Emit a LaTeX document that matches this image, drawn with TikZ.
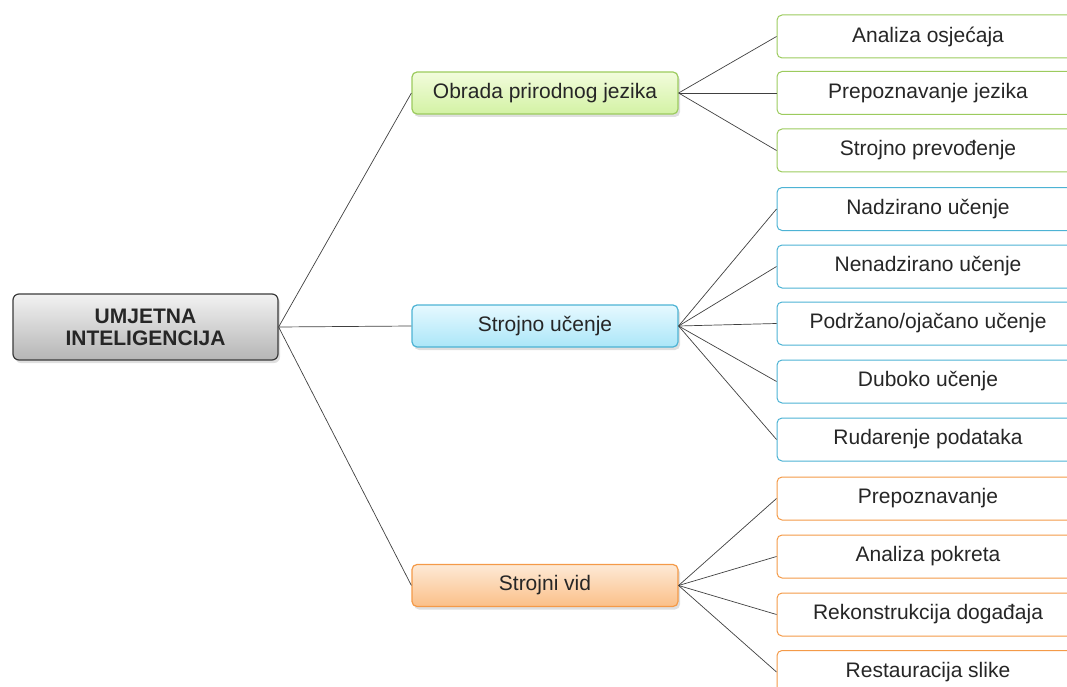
\documentclass[tikz,border=0pt]{standalone}
\usepackage{fontspec}
\setmainfont{Liberation Sans}
\usetikzlibrary{shadows}
\definecolor{txt}{HTML}{262626}
\definecolor{lnk}{HTML}{404040}
\definecolor{gB}{HTML}{9CCB5E}
\definecolor{gT}{HTML}{F2FCDC}
\definecolor{gD}{HTML}{D3F2A4}
\definecolor{bB}{HTML}{4DB3D4}
\definecolor{bT}{HTML}{E6F9FF}
\definecolor{bD}{HTML}{ABE6F8}
\definecolor{oB}{HTML}{F49A48}
\definecolor{oT}{HTML}{FDE9D6}
\definecolor{oD}{HTML}{FBBF88}
\definecolor{rB}{HTML}{3A3A3A}
\definecolor{rT}{HTML}{F2F2F2}
\definecolor{rD}{HTML}{B5B5B5}
\tikzset{
  lbl/.style={font=\fontsize{21}{22}\selectfont, text=txt, inner sep=0pt, align=center},
  rootbox/.style={lbl, font=\fontsize{21}{22}\selectfont\bfseries, draw=rB, line width=1.2pt, rounded corners=6pt,
    top color=rT, bottom color=rD, minimum width=265pt, minimum height=66pt,
    drop shadow={shadow xshift=2pt, shadow yshift=-3pt, opacity=0.25}},
  midbox/.style={lbl, line width=1.2pt, rounded corners=5pt, minimum width=266pt, minimum height=42pt,
    drop shadow={shadow xshift=2pt, shadow yshift=-3pt, opacity=0.25}},
  gmid/.style={midbox, draw=gB, top color=gT, bottom color=gD},
  bmid/.style={midbox, draw=bB, top color=bT, bottom color=bD},
  omid/.style={midbox, draw=oB, top color=oT, bottom color=oD},
  leaf/.style={lbl, fill=white, line width=1pt, rounded corners=5pt, minimum width=302pt, minimum height=43pt},
  gleaf/.style={leaf, draw=gB},
  bleaf/.style={leaf, draw=bB},
  oleaf/.style={leaf, draw=oB},
  link/.style={draw=lnk, line width=0.7pt}
}
\begin{document}
\begin{tikzpicture}[x=1pt, y=-1pt]
\useasboundingbox (0,0) rectangle (1067,687);
\clip (0,0) rectangle (1067,687);
\node[rootbox] (root) at (145.5,327) {UMJETNA\\INTELIGENCIJA};
\node[gmid] (nlp) at (545,93) {Obrada prirodnog jezika};
\node[bmid] (ml) at (545,326) {Strojno učenje};
\node[omid] (cv) at (545,585.5) {Strojni vid};

\node[gleaf] (g1) at (928,36.5) {Analiza osjećaja};
\node[gleaf] (g2) at (928,93) {Prepoznavanje jezika};
\node[gleaf] (g3) at (928,150.5) {Strojno prevođenje};

\node[bleaf] (b1) at (928,209) {Nadzirano učenje};
\node[bleaf] (b2) at (928,266.5) {Nenadzirano učenje};
\node[bleaf] (b3) at (928,323.5) {Podržano/ojačano učenje};
\node[bleaf] (b4) at (928,381.5) {Duboko učenje};
\node[bleaf] (b5) at (928,439.5) {Rudarenje podataka};

\node[oleaf] (o1) at (928,498.5) {Prepoznavanje};
\node[oleaf] (o2) at (928,556.5) {Analiza pokreta};
\node[oleaf] (o3) at (928,614.5) {Rekonstrukcija događaja};
\node[oleaf] (o4) at (928,672) {Restauracija slike};

\foreach \m in {nlp,ml,cv} \draw[link] (root.east) -- (\m.west);
\foreach \l in {g1,g2,g3} \draw[link] (nlp.east) -- (\l.west);
\foreach \l in {b1,b2,b3,b4,b5} \draw[link] (ml.east) -- (\l.west);
\foreach \l in {o1,o2,o3,o4} \draw[link] (cv.east) -- (\l.west);
\end{tikzpicture}
\end{document}
